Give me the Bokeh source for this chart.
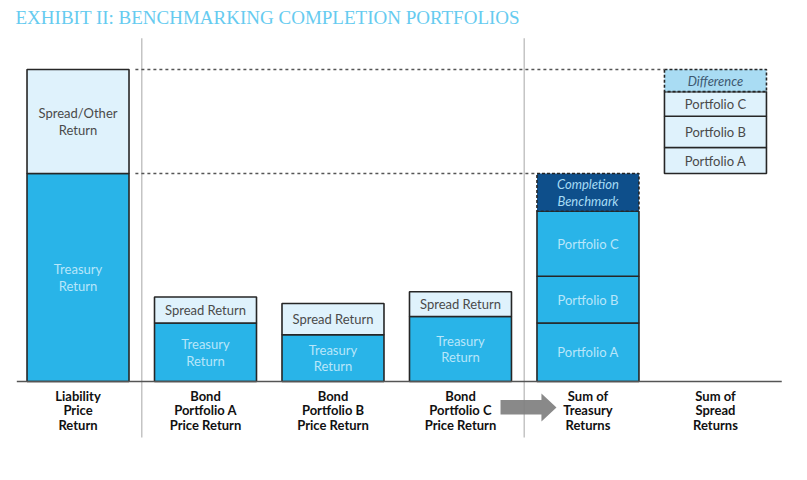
from bokeh.plotting import figure
from bokeh.models import Label, Range1d
from bokeh.core.properties import value
from bokeh.embed import file_html
from bokeh.resources import INLINE

# ---------------- data ----------------
categories = ["Liability\nPrice\nReturn",
              "Bond\nPortfolio A\nPrice Return",
              "Bond\nPortfolio B\nPrice Return",
              "Bond\nPortfolio C\nPrice Return",
              "Sum of\nTreasury\nReturns",
              "Sum of\nSpread\nReturns"]
portfolios = ["Portfolio A", "Portfolio B", "Portfolio C"]
liability_treasury = 8.0
liability_spread = 4.0
treasury_returns = [2.25, 1.8, 2.5]
spread_returns = [1.0, 1.2, 0.95]
title_text = "EXHIBIT II: BENCHMARKING COMPLETION PORTFOLIOS"

# ---------------- styles ----------------
C_TREAS = "#29B4E8"
C_SPREAD = "#DFF2FC"
C_BENCH = "#0E4F8B"
C_DIFF = "#A9DCF3"
C_EDGE = "#262626"
C_LIGHT_TXT = "#B8E6FA"
C_DARK_TXT = "#4A4A4A"
FONT = value("Lato")
W = 0.8

p = figure(width=800, height=470, output_backend="svg", toolbar_location=None,
           x_range=Range1d(-0.608, 5.667), y_range=Range1d(-3.423, 14.654),
           min_border=0, min_border_left=0, min_border_right=0,
           min_border_top=0, min_border_bottom=0)
p.axis.visible = False
p.grid.visible = False
p.outline_line_color = None
p.background_fill_color = "white"
p.border_fill_color = "white"

liab_total = liability_treasury + liability_spread
sum_treas = sum(treasury_returns)
sum_spread = sum(spread_returns)
completion = liability_treasury - sum_treas
difference = liability_spread - sum_spread

# separators
for xs in (0.5, 3.5):
    p.segment(x0=xs, y0=-2.15, x1=xs, y1=13.2, line_color="#C4C4C4", line_width=1.5)

# dashed reference lines
p.segment(x0=0.45, y0=liab_total, x1=5 - W / 2, y1=liab_total,
          line_color="#555555", line_width=1.5, line_dash="3 3")
p.segment(x0=0.45, y0=liability_treasury, x1=4 - W / 2, y1=liability_treasury,
          line_color="#555555", line_width=1.5, line_dash="3 3")


def box(x, b, t, fill, dash="solid"):
    p.vbar(x=[x], bottom=[b], top=[t], width=W, fill_color=fill,
           line_color=C_EDGE, line_width=1.6, line_dash=dash)


def txt(x, y, s, color, size="13px", style="normal"):
    p.text(x=[x], y=[y], text=[s], text_align="center", text_baseline="middle",
           text_color=color, text_font=FONT, text_font_size=size,
           text_font_style=style, text_line_height=1.05)


# liability bar
box(0, 0, liability_treasury, C_TREAS)
box(0, liability_treasury, liab_total, C_SPREAD)
txt(0, liability_treasury / 2, "Treasury\nReturn", C_LIGHT_TXT)
txt(0, liability_treasury + liability_spread / 2, "Spread/Other\nReturn", C_DARK_TXT)

# bond portfolio bars
for i, (tr, sp) in enumerate(zip(treasury_returns, spread_returns)):
    x = i + 1
    box(x, 0, tr, C_TREAS)
    box(x, tr, tr + sp, C_SPREAD)
    txt(x, tr / 2, "Treasury\nReturn", C_LIGHT_TXT)
    txt(x, tr + sp / 2, "Spread Return", C_DARK_TXT)

# sum of treasury returns
b = 0.0
for name, tr in zip(portfolios, treasury_returns):
    box(4, b, b + tr, C_TREAS)
    txt(4, b + tr / 2, name, C_LIGHT_TXT)
    b += tr
box(4, b, b + completion, C_BENCH, dash="3 2")
txt(4, b + completion / 2, "Completion\nBenchmark", "#A6DCF5", style="italic")

# sum of spread returns
b = liability_treasury
for name, sp in zip(portfolios, spread_returns):
    box(5, b, b + sp, C_SPREAD)
    txt(5, b + sp / 2, name, C_DARK_TXT)
    b += sp
box(5, b, b + difference, C_DIFF, dash="3 2")
txt(5, b + difference / 2, "Difference", "#3D5870", style="italic")

# baseline
p.segment(x0=-0.48, y0=0, x1=5.52, y1=0, line_color="#555555", line_width=1.6)

# category labels
p.text(x=list(range(len(categories))), y=[-0.24] * len(categories), text=categories,
       text_align="center", text_baseline="top", text_color="#111111",
       text_font=FONT, text_font_size="13px", text_font_style="bold",
       text_line_height=0.9)

# arrow
ax = [3.314, 3.635, 3.635, 3.753, 3.635, 3.635, 3.314]
ay = [-0.71, -0.71, -0.46, -1.0, -1.54, -1.27, -1.27]
p.patch(x=ax, y=ay, fill_color="#7F7F7F", line_color=None, fill_alpha=0.92)

# title
p.add_layout(Label(x=15, y=453, x_units="screen", y_units="screen", text=title_text,
                   text_font="Liberation Serif", text_font_size="19px",
                   text_color="#66CBF0", text_baseline="middle"))

open("out.html", "w").write(file_html(p, INLINE))
